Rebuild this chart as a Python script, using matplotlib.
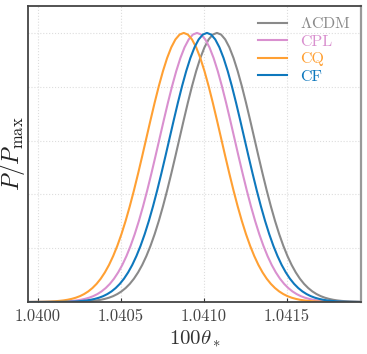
import matplotlib
matplotlib.use("Agg")
import matplotlib.pyplot as plt

# peak positions of each posterior
peaks = {"lcdm": 1.04108, "cpl": 1.04096, "cq": 1.04088, "cf": 1.04102}

# offsets from the peak (in units of 100 theta_*) and the normalised profile read at them
offsets = [-0.000900, -0.000875, -0.000850, -0.000825, -0.000800, -0.000775,
           -0.000750, -0.000725, -0.000700, -0.000675, -0.000650, -0.000625,
           -0.000600, -0.000575, -0.000550, -0.000525, -0.000500, -0.000475,
           -0.000450, -0.000425, -0.000400, -0.000375, -0.000350, -0.000325,
           -0.000300, -0.000275, -0.000250, -0.000225, -0.000200, -0.000175,
           -0.000150, -0.000125, -0.000100, -0.000075, -0.000050, -0.000025,
           0.0,
           0.000025, 0.000050, 0.000075, 0.000100, 0.000125, 0.000150,
           0.000175, 0.000200, 0.000225, 0.000250, 0.000275, 0.000300,
           0.000325, 0.000350, 0.000375, 0.000400, 0.000425, 0.000450,
           0.000475, 0.000500, 0.000525, 0.000550, 0.000575, 0.000600,
           0.000625, 0.000650, 0.000675, 0.000700, 0.000725, 0.000750,
           0.000775, 0.000800, 0.000825, 0.000850, 0.000875, 0.000900]
half = [0.00036, 0.00056, 0.00085, 0.0013, 0.0019, 0.0028, 0.0041, 0.0058,
        0.0083, 0.0116, 0.0160, 0.0218, 0.0295, 0.0393, 0.0518, 0.0673,
        0.0865, 0.1099, 0.1377, 0.1707, 0.2088, 0.2524, 0.3014, 0.3556,
        0.4144, 0.4770, 0.5423, 0.6092, 0.6760, 0.7410, 0.8023, 0.8581,
        0.9067, 0.9464, 0.9758, 0.9939]
profile = half + [1.0] + half[::-1]

labels = [r"$\Lambda$CDM", "CPL", "CQ", "CF"]
keys = ["lcdm", "cpl", "cq", "cf"]
colors = ["#8a8a8a", "#d990cf", "#ffa033", "#0e78bd"]

x_ticks = [1.0400, 1.0405, 1.0410, 1.0415]
x_lo, x_hi = 1.039942, 1.041948

plt.rcParams["font.family"] = "serif"
plt.rcParams["font.serif"] = ["cmr10", "DejaVu Serif"]
plt.rcParams["mathtext.fontset"] = "cm"
plt.rcParams["axes.formatter.use_mathtext"] = True

fig = plt.figure(figsize=(3.67, 3.54), dpi=100)
ax = fig.add_axes([0.0763, 0.1469, 0.9074, 0.8361])

for k, lab, c in zip(keys, labels, colors):
    x = [peaks[k] + d for d in offsets]
    ax.plot([x_lo] + x + [x_hi], [0] + profile + [0], color=c, lw=1.5, label=lab)

ax.set_xlim(x_lo, x_hi)
ax.set_ylim(0, 1.1)
ax.set_xticks(x_ticks)
ax.set_xticklabels(["%.4f" % t for t in x_ticks])
ax.set_yticks([0, 0.2, 0.4, 0.6, 0.8, 1.0])
ax.set_yticklabels([])
ax.tick_params(axis="x", direction="in", length=3, labelsize=12, pad=5, colors="#333333")
ax.tick_params(axis="x", labelcolor="#444444")
ax.tick_params(axis="y", length=0)
ax.grid(True, color="#dddddd", ls=":", lw=0.8)

for s in ["left", "bottom", "top"]:
    ax.spines[s].set_color("#444444")
    ax.spines[s].set_linewidth(1.3)
ax.spines["right"].set_color("#999999")
ax.spines["right"].set_linewidth(1.6)

ax.set_xlabel(r"$100\theta_*$", fontsize=15, labelpad=3, color="#333333")
ax.set_ylabel(r"$P/P_{\rm max}$", fontsize=17, labelpad=-3, color="#222222")

leg = ax.legend(loc="upper right", frameon=False, fontsize=11.5, handlelength=1.8,
                handletextpad=0.8, labelspacing=0.2, borderaxespad=0.25)
for txt, c in zip(leg.get_texts(), colors):
    txt.set_color(c)

fig.savefig("out.png", dpi=100)
